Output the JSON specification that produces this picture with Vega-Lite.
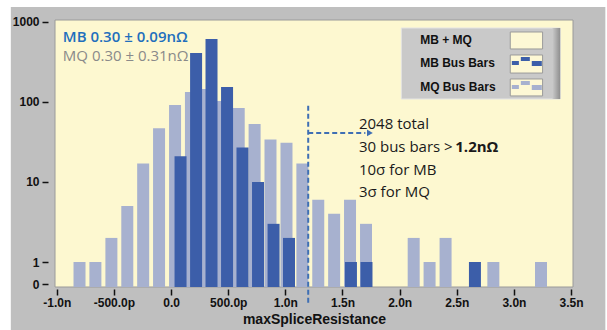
{
  "$schema": "https://vega.github.io/schema/vega-lite/v6.json",
  "width": 528,
  "height": 267,
  "autosize": {"type": "none"},
  "padding": {"left": 50, "top": 20, "right": 29, "bottom": 43},
  "background": "#ffffff",
  "config": {"view": {"stroke": null}},
  "layer": [
    {
      "data": {"values": [{}]},
      "mark": {"type": "rect", "color": "#bfbfbf"},
      "encoding": {
        "x": {"datum": -1.402, "type": "quantitative"},
        "x2": {"datum": 3.8},
        "y": {"datum": 1540, "type": "quantitative"},
        "y2": {"datum": 0.1}
      }
    },
    {
      "data": {"values": [{}]},
      "mark": {"type": "rect", "color": "#fdf8d0", "stroke": "#9a9a9a", "strokeWidth": 1},
      "encoding": {
        "x": {"datum": -1.0155, "type": "quantitative"},
        "x2": {"datum": 3.517},
        "y": {"datum": 1059, "type": "quantitative"},
        "y2": {"datum": 0.487}
      }
    },
    {
      "data": {
        "values": [
          {"series": "MQ Bus Bars", "center": -0.801, "count": 1},
          {"series": "MQ Bus Bars", "center": -0.662, "count": 1},
          {"series": "MQ Bus Bars", "center": -0.522, "count": 2},
          {"series": "MQ Bus Bars", "center": -0.383, "count": 5},
          {"series": "MQ Bus Bars", "center": -0.244, "count": 17},
          {"series": "MQ Bus Bars", "center": -0.105, "count": 47},
          {"series": "MQ Bus Bars", "center": 0.035, "count": 92},
          {"series": "MQ Bus Bars", "center": 0.174, "count": 133},
          {"series": "MQ Bus Bars", "center": 0.313, "count": 145},
          {"series": "MQ Bus Bars", "center": 0.452, "count": 103},
          {"series": "MQ Bus Bars", "center": 0.592, "count": 84},
          {"series": "MQ Bus Bars", "center": 0.731, "count": 53},
          {"series": "MQ Bus Bars", "center": 0.870, "count": 34},
          {"series": "MQ Bus Bars", "center": 1.010, "count": 31},
          {"series": "MQ Bus Bars", "center": 1.149, "count": 17},
          {"series": "MQ Bus Bars", "center": 1.288, "count": 6},
          {"series": "MQ Bus Bars", "center": 1.427, "count": 4},
          {"series": "MQ Bus Bars", "center": 1.566, "count": 6},
          {"series": "MQ Bus Bars", "center": 1.706, "count": 3},
          {"series": "MQ Bus Bars", "center": 2.123, "count": 2},
          {"series": "MQ Bus Bars", "center": 2.262, "count": 1},
          {"series": "MQ Bus Bars", "center": 2.402, "count": 2},
          {"series": "MQ Bus Bars", "center": 2.820, "count": 1},
          {"series": "MQ Bus Bars", "center": 3.237, "count": 1},
          {"series": "MB Bus Bars", "center": 0.083, "count": 21},
          {"series": "MB Bus Bars", "center": 0.219, "count": 410},
          {"series": "MB Bus Bars", "center": 0.354, "count": 613},
          {"series": "MB Bus Bars", "center": 0.490, "count": 154},
          {"series": "MB Bus Bars", "center": 0.625, "count": 27},
          {"series": "MB Bus Bars", "center": 0.761, "count": 10},
          {"series": "MB Bus Bars", "center": 0.897, "count": 3},
          {"series": "MB Bus Bars", "center": 1.032, "count": 2},
          {"series": "MB Bus Bars", "center": 1.574, "count": 1},
          {"series": "MB Bus Bars", "center": 1.710, "count": 1},
          {"series": "MB Bus Bars", "center": 2.659, "count": 1}
        ]
      },
      "mark": {"type": "bar", "size": 12},
      "encoding": {
        "x": {
          "field": "center",
          "type": "quantitative",
          "title": "maxSpliceResistance",
          "scale": {"domain": [-1.0155, 3.517], "nice": false, "zero": false},
          "axis": {
            "values": [-1, -0.5, 0, 0.5, 1, 1.5, 2, 2.5, 3, 3.5],
            "labelExpr": "datum.value == 0 ? '0.0' : (datum.value < 0 ? '-' : '') + (abs(datum.value) < 1 ? format(abs(datum.value) * 1000, '.1f') + 'p' : format(abs(datum.value), '.1f') + 'n')",
            "domain": false,
            "grid": false,
            "tickSize": 6,
            "tickWidth": 1.5,
            "tickColor": "#111111",
            "offset": 2,
            "labelFont": "Liberation Sans",
            "labelFontWeight": "bold",
            "labelFontSize": 12,
            "labelColor": "#111111",
            "labelPadding": 2,
            "labelFlush": false,
            "labelOverlap": false,
            "titleFont": "Liberation Sans",
            "titleFontSize": 14,
            "titleFontWeight": "bold",
            "titleColor": "#111111",
            "titlePadding": 4,
            "zindex": 1
          }
        },
        "y": {
          "field": "count",
          "type": "quantitative",
          "title": null,
          "scale": {"type": "log", "domain": [0.487, 1059], "nice": false},
          "axis": {
            "values": [0.53, 1, 10, 100, 1000],
            "labelExpr": "datum.value < 0.9 ? '0' : format(datum.value, 'd')",
            "domain": false,
            "grid": false,
            "tickSize": 6,
            "tickWidth": 1.5,
            "tickColor": "#111111",
            "offset": 2,
            "labelFont": "Liberation Sans",
            "labelFontWeight": "bold",
            "labelFontSize": 12,
            "labelColor": "#111111",
            "labelPadding": 3,
            "labelOverlap": false,
            "zindex": 1
          }
        },
        "y2": {"datum": 0.487},
        "color": {
          "field": "series",
          "type": "nominal",
          "scale": {"domain": ["MQ Bus Bars", "MB Bus Bars"], "range": ["#a7b1cf", "#3c5ea9"]},
          "legend": null
        }
      }
    },
    {
      "data": {"values": [{}]},
      "mark": {"type": "rule", "color": "#3f6fb4", "strokeWidth": 2, "strokeDash": [5, 3]},
      "encoding": {
        "x": {"datum": 1.2, "type": "quantitative"},
        "y": {"datum": 90, "type": "quantitative"},
        "y2": {"datum": 0.3}
      }
    },
    {
      "data": {"values": [{}]},
      "mark": {"type": "rule", "color": "#3f6fb4", "strokeWidth": 2, "strokeDash": [5, 3]},
      "encoding": {
        "x": {"datum": 1.2, "type": "quantitative"},
        "x2": {"datum": 1.7},
        "y": {"datum": 41, "type": "quantitative"}
      }
    },
    {
      "data": {"values": [{}]},
      "mark": {"type": "point", "shape": "triangle-right", "filled": true, "size": 45, "color": "#3f6fb4", "opacity": 1},
      "encoding": {
        "x": {"datum": 1.74, "type": "quantitative"},
        "y": {"datum": 41, "type": "quantitative"}
      }
    },
    {
      "data": {"values": [{"label": "MB 0.30 ± 0.09nΩ"}]},
      "mark": {"type": "text", "font": "Open Sans", "fontSize": 15, "fontWeight": 600, "color": "#1f6fbd", "align": "left", "baseline": "middle"},
      "encoding": {
        "x": {"datum": -0.947, "type": "quantitative"},
        "y": {"datum": 649, "type": "quantitative"},
        "text": {"field": "label"}
      }
    },
    {
      "data": {"values": [{"label": "MQ 0.30 ± 0.31nΩ"}]},
      "mark": {"type": "text", "font": "Open Sans", "fontSize": 15, "fontWeight": "normal", "color": "#8a8a8a", "align": "left", "baseline": "middle"},
      "encoding": {
        "x": {"datum": -0.947, "type": "quantitative"},
        "y": {"datum": 376, "type": "quantitative"},
        "text": {"field": "label"}
      }
    },
    {
      "data": {"values": [{"label": "2048 total"}]},
      "mark": {"type": "text", "font": "Open Sans", "fontSize": 15, "color": "#1a1a1a", "align": "left", "baseline": "middle"},
      "encoding": {
        "x": {"datum": 1.644, "type": "quantitative"},
        "y": {"datum": 53.1, "type": "quantitative"},
        "text": {"field": "label"}
      }
    },
    {
      "data": {"values": [{"label": "10σ for MB"}]},
      "mark": {"type": "text", "font": "Open Sans", "fontSize": 15, "color": "#1a1a1a", "align": "left", "baseline": "middle"},
      "encoding": {
        "x": {"datum": 1.644, "type": "quantitative"},
        "y": {"datum": 14.1, "type": "quantitative"},
        "text": {"field": "label"}
      }
    },
    {
      "data": {"values": [{"label": "3σ for MQ"}]},
      "mark": {"type": "text", "font": "Open Sans", "fontSize": 15, "color": "#1a1a1a", "align": "left", "baseline": "middle"},
      "encoding": {
        "x": {"datum": 1.644, "type": "quantitative"},
        "y": {"datum": 7.5, "type": "quantitative"},
        "text": {"field": "label"}
      }
    },
    {
      "data": {"values": [{"label": "30 bus bars > "}]},
      "mark": {"type": "text", "font": "Open Sans", "fontSize": 15, "color": "#1a1a1a", "align": "left", "baseline": "middle"},
      "encoding": {
        "x": {"datum": 1.644, "type": "quantitative"},
        "y": {"datum": 27.4, "type": "quantitative"},
        "text": {"field": "label"}
      }
    },
    {
      "data": {"values": [{"label": "1.2nΩ"}]},
      "mark": {"type": "text", "font": "Open Sans", "fontSize": 15, "fontWeight": "bold", "color": "#1a1a1a", "align": "left", "baseline": "middle"},
      "encoding": {
        "x": {"datum": 2.487, "type": "quantitative"},
        "y": {"datum": 27.4, "type": "quantitative"},
        "text": {"field": "label"}
      }
    },
    {
      "data": {"values": [{}]},
      "mark": {"type": "rect", "color": "#c9c9c9", "stroke": "#e4e4e4", "strokeWidth": 1},
      "encoding": {
        "x": {"datum": 2.015, "type": "quantitative"},
        "x2": {"datum": 3.405},
        "y": {"datum": 841, "type": "quantitative"},
        "y2": {"datum": 109}
      }
    },
    {
      "data": {"values": [{}]},
      "mark": {"type": "rect", "color": {"gradient": "linear", "stops": [{"offset": 0, "color": "#c9c9c9"}, {"offset": 1, "color": "#8e8e8e"}]}},
      "encoding": {
        "x": {"datum": 3.337, "type": "quantitative"},
        "x2": {"datum": 3.405},
        "y": {"datum": 841, "type": "quantitative"},
        "y2": {"datum": 109}
      }
    },
    {
      "data": {"values": [{}]},
      "mark": {"type": "rect", "color": "#fdf8d5", "stroke": "#9a9a9a", "strokeWidth": 1},
      "encoding": {
        "x": {"datum": 2.968, "type": "quantitative"},
        "x2": {"datum": 3.251},
        "y": {"datum": 750, "type": "quantitative"},
        "y2": {"datum": 460}
      }
    },
    {
      "data": {"values": [{}]},
      "mark": {"type": "rect", "color": "#fdf8d5", "stroke": "#9a9a9a", "strokeWidth": 1},
      "encoding": {
        "x": {"datum": 2.968, "type": "quantitative"},
        "x2": {"datum": 3.251},
        "y": {"datum": 387, "type": "quantitative"},
        "y2": {"datum": 230}
      }
    },
    {
      "data": {"values": [{}]},
      "mark": {"type": "rect", "color": "#fdf8d5", "stroke": "#9a9a9a", "strokeWidth": 1},
      "encoding": {
        "x": {"datum": 2.968, "type": "quantitative"},
        "x2": {"datum": 3.251},
        "y": {"datum": 194, "type": "quantitative"},
        "y2": {"datum": 119}
      }
    },
    {
      "data": {"values": [{}]},
      "mark": {"type": "point", "shape": "M-1,-0.03H-0.53V0.23H-1Z M-0.4,-0.3H0.2V-0.03H-0.4Z M0.33,-0.03H1V0.3H0.33Z", "size": 900, "filled": true, "opacity": 1, "color": "#3c5ea9", "strokeWidth": 0},
      "encoding": {
        "x": {"datum": 3.113, "type": "quantitative"},
        "y": {"datum": 321, "type": "quantitative"}
      }
    },
    {
      "data": {"values": [{}]},
      "mark": {"type": "point", "shape": "M-1,-0.03H-0.53V0.23H-1Z M-0.4,-0.3H0.2V-0.03H-0.4Z M0.33,-0.03H1V0.3H0.33Z", "size": 900, "filled": true, "opacity": 1, "color": "#a7b1cf", "strokeWidth": 0},
      "encoding": {
        "x": {"datum": 3.113, "type": "quantitative"},
        "y": {"datum": 160.8, "type": "quantitative"}
      }
    },
    {
      "data": {"values": [{}]},
      "mark": {"type": "text", "text": ["MB + MQ", "MB Bus Bars", "MQ Bus Bars"], "lineHeight": 23.5, "font": "Liberation Sans", "fontWeight": "bold", "fontSize": 12, "color": "#111111", "align": "left", "baseline": "middle"},
      "encoding": {
        "x": {"datum": 2.18, "type": "quantitative"},
        "y": {"datum": 596, "type": "quantitative"}
      }
    }
  ]
}
